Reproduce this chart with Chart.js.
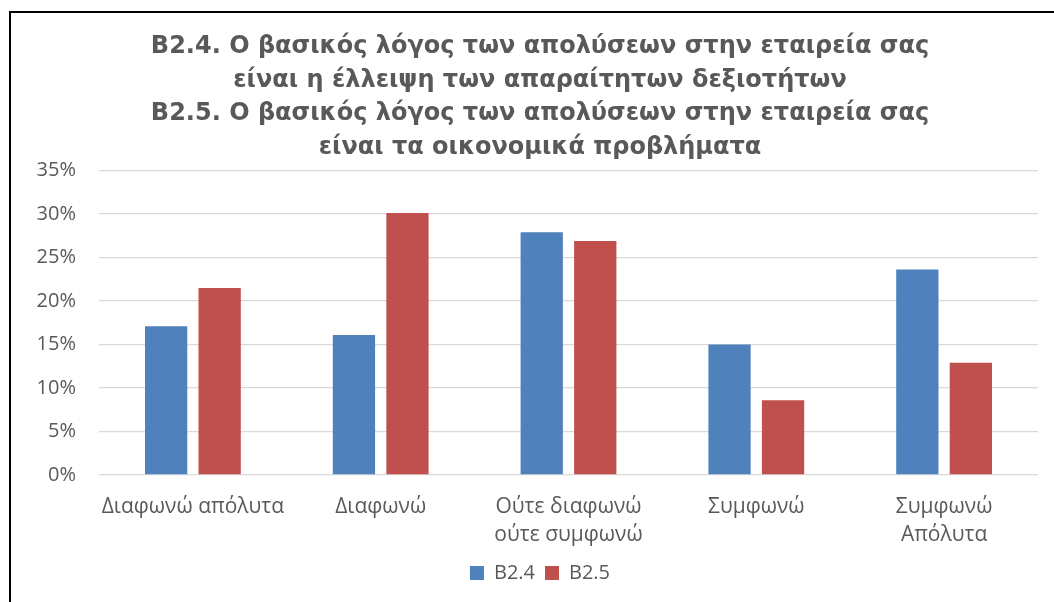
<!DOCTYPE html>
<html>
<head>
<meta charset="utf-8">
<script src="https://cdn.jsdelivr.net/npm/chart.js@4"></script>
<style>
  html, body { margin: 0; padding: 0; background: #fff; overflow: hidden; }
  #frame {
    position: absolute; left: 9px; top: 11px;
    border-left: 2px solid #000; border-top: 2px solid #000;
  }
  canvas { display: block; }
</style>
</head>
<body>
<div id="frame">
  <canvas id="chart" width="1058" height="605"></canvas>
</div>
<script>
// answers and the share (%) for each question
const answers = ['Διαφωνώ απόλυτα', 'Διαφωνώ', ['Ούτε διαφωνώ', 'ούτε συμφωνώ'], 'Συμφωνώ', ['Συμφωνώ', 'Απόλυτα']]
const b24 = [17.1, 16.1, 27.9, 15.0, 23.6]
const b25 = [21.5, 30.1, 26.9, 8.6, 12.9]
const titleLines = [
  'B2.4. Ο βασικός λόγος των απολύσεων στην εταιρεία σας',
  'είναι η έλλειψη των απαραίτητων δεξιοτήτων',
  'B2.5. Ο βασικός λόγος των απολύσεων στην εταιρεία σας',
  'είναι τα οικονομικά προβλήματα'
]

const grey = '#595959'
const sans = '"Open Sans", sans-serif'

// the plot keeps a right margin, but title and legend stay centred on the whole canvas
const centreBlocks = {
  id: 'centreBlocks',
  afterLayout(chart) {
    for (const box of [chart.titleBlock, chart.legend]) {
      box.left = 0
      box.right = chart.width
      box.width = chart.width
    }
  }
}

new Chart(document.getElementById('chart'), {
  type: 'bar',
  data: {
    labels: answers,
    datasets: [
      { label: 'B2.4', data: b24, backgroundColor: '#4F81BD',
        categoryPercentage: 0.57, barPercentage: 0.79 },
      { label: 'B2.5', data: b25, backgroundColor: '#C0504D',
        categoryPercentage: 0.57, barPercentage: 0.79 }
    ]
  },
  plugins: [centreBlocks],
  options: {
    responsive: false,
    animation: false,
    layout: { padding: { left: 0, right: 31, top: 0, bottom: 25 } },
    plugins: {
      title: {
        display: true,
        text: titleLines,
        color: grey,
        font: { family: '"DejaVu Sans", sans-serif', size: 24, weight: 'bold', lineHeight: 1.4 },
        padding: { top: 17, bottom: 6 }
      },
      legend: {
        position: 'bottom',
        labels: {
          color: grey,
          font: { family: sans, size: 20 },
          boxWidth: 14, boxHeight: 14, padding: 10
        }
      },
      tooltip: { enabled: false }
    },
    scales: {
      x: {
        grid: { display: false, drawTicks: false },
        border: { display: false },
        ticks: { color: grey, font: { family: sans, size: 21, lineHeight: 1.33 },
          padding: 18, maxRotation: 0, autoSkip: false },
        afterFit: s => { s.height = 78 }
      },
      y: {
        min: 0, max: 35,
        grid: { color: '#d9d9d9', lineWidth: 1.3, drawTicks: false },
        border: { display: false },
        ticks: { stepSize: 5, color: grey, font: { family: sans, size: 20 }, padding: 23,
          callback: v => v + '%' },
        afterFit: s => { s.width = 88 }
      }
    }
  }
})
</script>
</body>
</html>
